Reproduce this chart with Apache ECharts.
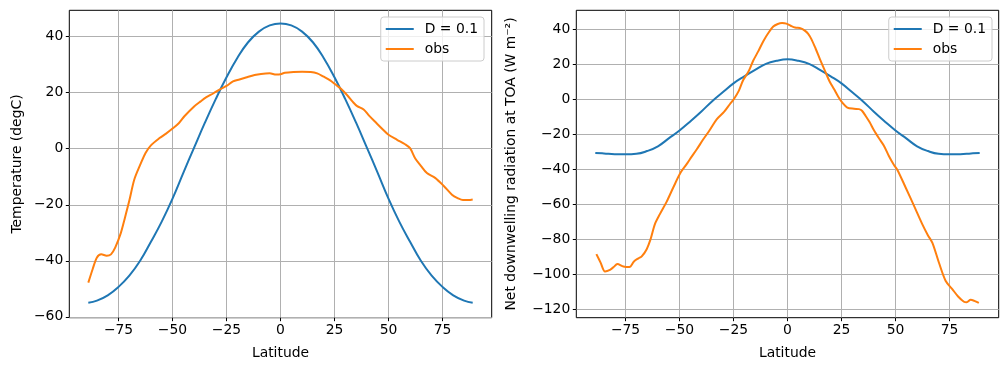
<!DOCTYPE html>
<html><head><meta charset="utf-8">
<script src="https://cdn.jsdelivr.net/npm/echarts@6/dist/echarts.min.js"></script>
<style>html,body{margin:0;padding:0;background:#fff}#c{width:1008px;height:371px}</style>
</head><body><div id="c"></div>
<script>
// ---- data ----
const latModel = [-89,-85,-80,-75,-70,-65,-60,-55,-50,-45,-40,-35,-30,-25,-20,-15,-10,-5,0,5,10,15,20,25,30,35,40,45,50,55,60,65,70,75,80,85,89];
const tempModel = [-55.0,-54.2,-52.3,-49.3,-45.3,-40.0,-33.2,-26.0,-17.8,-8.6,0.4,9.3,17.7,25.5,32.4,38.0,41.8,44.0,44.7,44.0,41.8,38.0,32.4,25.5,17.7,9.3,0.4,-8.6,-17.8,-26.0,-33.2,-40.0,-45.3,-49.3,-52.3,-54.2,-55.0];
const radModel = [-30.6,-30.9,-31.3,-31.4,-31.1,-29.5,-26.8,-22.3,-17.8,-12.6,-7.1,-1.2,4.0,9.1,13.1,16.8,20.2,22.0,22.8,22.0,20.2,16.8,13.1,9.1,4.0,-1.2,-7.1,-12.6,-17.8,-22.3,-26.8,-29.5,-31.1,-31.4,-31.3,-30.9,-30.6];

const latObsT = [-89,-87,-85,-83,-80.5,-78.5,-76.5,-74,-72,-70,-67.7,-65,-62.5,-60,-56,-53,-50,-47,-44.5,-40,-37,-34.5,-31,-28,-25,-22,-19,-16,-12,-9,-5,-2,0,2,6,10,14,17,20,23,25.5,28,31,33.5,35.5,38.5,41,44.5,47.5,50,54,57.7,60,62.4,65,67.8,71.6,75.5,79.4,82,84.5,87,89];
const tempObs = [-47.8,-43.0,-38.8,-37.7,-38.2,-37.7,-35.2,-30.2,-24.5,-18.5,-11.0,-5.8,-1.5,1.2,3.8,5.4,7.2,9.2,11.6,15.1,16.9,18.3,19.8,21.2,22.4,24.0,24.7,25.4,26.3,26.7,26.9,26.5,26.6,27.1,27.4,27.5,27.4,26.9,25.7,24.4,22.9,21.4,19.0,16.7,15.2,14.0,11.8,9.1,6.8,5.0,3.2,1.6,0.2,-3.5,-6.1,-8.7,-10.4,-13.2,-16.4,-17.6,-18.3,-18.3,-18.1];

const latObsR = [-88.5,-86.5,-84.5,-82.2,-80.5,-78.8,-76,-73.2,-71.1,-69,-67.5,-65.2,-63.4,-61.4,-59.1,-56,-52.9,-49.5,-46.7,-45.2,-42,-39,-36,-32.8,-29.4,-26.7,-24.8,-22.5,-20.5,-18,-15.9,-13.5,-11.2,-8.8,-6.6,-4.5,-2.5,-0.5,1.5,3.5,6.2,8,9.5,11,13,15,17.7,19.5,21.6,23.5,25.4,27.7,30.8,33.1,34.5,36.2,38,40.1,42.5,44.7,47,49.3,50.9,54.7,58.6,62.4,65,67.1,70.1,73.2,76.3,79,81.7,83,84.8,86.5,88.6];
const radObs = [-88.3,-93.3,-98.2,-97.3,-95.7,-94.0,-95.4,-95.7,-92.5,-90.7,-89.6,-85.5,-79.8,-71.2,-65.5,-58.5,-50.3,-41.8,-37.0,-34.2,-28.5,-22.8,-17.5,-11.4,-7.2,-2.8,0.2,5.0,11.0,16.0,22.0,27.5,33.2,38.0,41.5,43.0,43.5,43.2,42.0,41.0,40.5,39.2,37.5,34.5,29.0,23.0,15.2,10.2,5.7,1.5,-1.9,-4.7,-5.4,-5.6,-6.5,-9.5,-13.0,-17.8,-22.5,-26.6,-32.5,-37.5,-40.3,-50.3,-60.8,-71.2,-77.5,-81.9,-93.1,-103.5,-108.3,-112.5,-115.5,-115.8,-114.4,-115.0,-116.2];

const xTicks = [-75,-50,-25,0,25,50,75];
const yTicksT = [-60,-40,-20,0,20,40];
const yTicksR = [-120,-100,-80,-60,-40,-20,0,20,40];

const modelName = 'D = 0.1';
const obsName = 'obs';
const xTitle = 'Latitude';
const yTitleT = 'Temperature (degC)';
const yTitleR = 'Net downwelling radiation at TOA (W m\u207B\u00B2)';

// ---- chart ----
const FONT = 'DejaVu Sans';
const FS = 13.9;
const pair = (xs, ys) => xs.map((x, i) => [x, ys[i]]);
const minus = v => String(v).replace('-', '\u2212');
const LINE_ICON = 'path://M0,0H28V2H0Z';

function xAxisCfg(gi) {
  return {
    type: 'value', gridIndex: gi, min: -97.8, max: 97.8,
    name: xTitle, nameLocation: 'middle', nameGap: 29,
    nameTextStyle: {fontFamily: FONT, fontSize: FS, color: '#000'},
    axisLine: {show: false, onZero: false},
    axisTick: {show: true, inside: false, length: 3.5, lineStyle: {color: '#000', width: 1}, customValues: xTicks},
    axisLabel: {fontFamily: FONT, fontSize: FS, color: '#000', margin: 6, customValues: xTicks, formatter: minus},
    splitLine: {show: true, lineStyle: {color: '#b0b0b0', width: 1}}
  };
}
function yAxisCfg(gi, min, max, ticks, title, gap) {
  return {
    type: 'value', gridIndex: gi, min: min, max: max,
    name: title, nameLocation: 'middle', nameGap: gap, nameRotate: 90,
    nameTextStyle: {fontFamily: FONT, fontSize: FS, color: '#000'},
    axisLine: {show: false, onZero: false},
    axisTick: {show: true, inside: false, length: 3.5, lineStyle: {color: '#000', width: 1}, customValues: ticks},
    axisLabel: {fontFamily: FONT, fontSize: FS, color: '#000', margin: 6, customValues: ticks, formatter: minus},
    splitLine: {show: true, lineStyle: {color: '#b0b0b0', width: 1}}
  };
}
function legendCfg(right) {
  return {
    orient: 'vertical', right: right, top: 17,
    data: [{name: modelName, icon: LINE_ICON}, {name: obsName, icon: LINE_ICON}],
    itemWidth: 28, itemHeight: 14, itemGap: 6,
    padding: [5, 6, 5, 5],
    backgroundColor: 'rgba(255,255,255,0.8)',
    borderColor: '#cccccc', borderWidth: 1, borderRadius: 3,
    textStyle: {fontFamily: FONT, fontSize: FS, color: '#000', padding: [0, 0, 0, 6]}
  };
}
function line(name, data, color, xi, smooth) {
  return {
    type: 'line', name: name, data: data, xAxisIndex: xi, yAxisIndex: xi,
    symbol: 'none', smooth: smooth, animation: false,
    lineStyle: {color: color, width: 2}, itemStyle: {color: color}
  };
}

const chart = echarts.init(document.getElementById('c'), null, {renderer: 'canvas'});
chart.setOption({
  animation: false,
  textStyle: {fontFamily: FONT},
  grid: [
    {left: 69.3, top: 10.3, width: 422.4, height: 307.4, show: true, borderColor: '#000', borderWidth: 1, backgroundColor: 'transparent'},
    {left: 576.3, top: 10.3, width: 422.4, height: 307.4, show: true, borderColor: '#000', borderWidth: 1, backgroundColor: 'transparent'}
  ],
  xAxis: [xAxisCfg(0), xAxisCfg(1)],
  yAxis: [
    yAxisCfg(0, -60.3, 49.4, yTicksT, yTitleT, 45),
    yAxisCfg(1, -124.6, 50.8, yTicksR, yTitleR, 58)
  ],
  legend: [legendCfg(524), legendCfg(16)],
  series: [
    line(modelName, pair(latModel, tempModel), '#1f77b4', 0, 0.45),
    line(obsName, pair(latObsT, tempObs), '#ff7f0e', 0, 0.3),
    line(modelName, pair(latModel, radModel), '#1f77b4', 1, 0.45),
    line(obsName, pair(latObsR, radObs), '#ff7f0e', 1, 0.3)
  ]
});
</script></body></html>
